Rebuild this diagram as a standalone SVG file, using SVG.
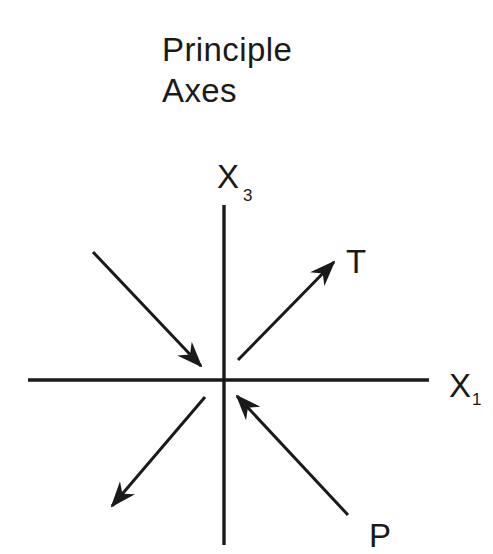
<svg xmlns="http://www.w3.org/2000/svg" width="493" height="554" viewBox="0 0 493 554">
<style>
text{font-family:"Liberation Sans",Arial,sans-serif;fill:#1a1a1a}
.t{font-size:33px;letter-spacing:0.4px}
.s{font-size:17px}
.ax{stroke:#1a1a1a;stroke-width:3.4;fill:none}
.ar{stroke:#1a1a1a;stroke-width:3;fill:none}
</style>
<defs>
<marker id="ah" viewBox="0 0 26 20" refX="24" refY="10" markerWidth="26" markerHeight="20" markerUnits="userSpaceOnUse" orient="auto">
<path d="M0,0 L26,10 L0,20 L8,10 Z" fill="#1a1a1a"/>
</marker>
</defs>
<rect width="493" height="554" fill="#ffffff"/>
<g id="title">
<text class="t" x="162" y="61">Principle</text>
<text class="t" x="162" y="102">Axes</text>
</g>
<g id="connectors">
<line class="ax" x1="224" y1="205" x2="224" y2="545"/>
<line class="ax" x1="28" y1="380" x2="429" y2="380"/>
<line class="ar" x1="93" y1="252" x2="201" y2="366" marker-end="url(#ah)"/>
<line class="ar" x1="238" y1="360" x2="334" y2="262" marker-end="url(#ah)"/>
<line class="ar" x1="205" y1="397" x2="112" y2="506" marker-end="url(#ah)"/>
<line class="ar" x1="348" y1="515" x2="237" y2="396" marker-end="url(#ah)"/>
</g>
<g id="x3">
<text class="t" x="217" y="188">X</text>
<text class="s" x="243" y="201">3</text>
</g>
<g id="x1">
<text class="t" x="449" y="397">X</text>
<text class="s" x="472" y="405">1</text>
</g>
<g id="T"><text class="t" x="346" y="273">T</text></g>
<g id="P"><text class="t" x="369" y="547">P</text></g>
</svg>
